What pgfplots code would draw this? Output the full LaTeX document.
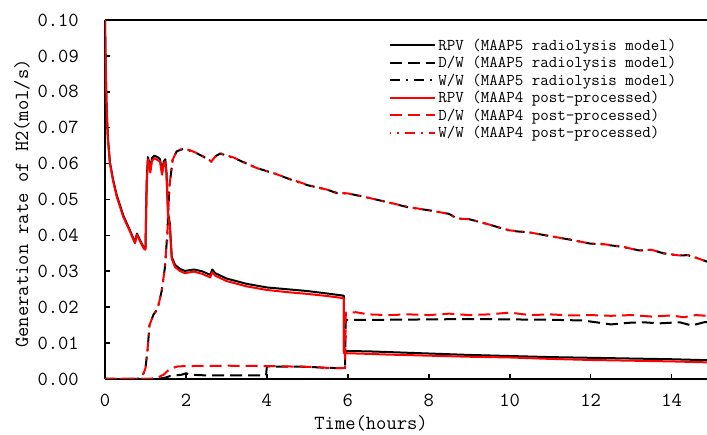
\documentclass[border=0pt]{standalone}
\usepackage{pgfplots}
\pgfplotsset{compat=1.18}
\definecolor{pred}{RGB}{255,0,0}
\begin{document}
\begin{tikzpicture}
\begin{axis}[
  scale only axis, width=602pt, height=359pt,
  xmin=0, xmax=14.875, ymin=0, ymax=0.1,
  axis y line*=left,
  axis line style={line width=1.6pt},
  xtick={0,2,...,14}, ytick={0,0.01,...,0.1},
  xtick pos=left, ytick pos=left, tick align=inside,
  major tick length=5pt, every tick/.style={line width=1.6pt, black},
  font=\ttfamily\fontsize{20}{20}\selectfont,
  /pgf/number format/.cd, fixed, fixed zerofill, precision=2, assume math mode=true,
  /pgfplots/.cd,
  xticklabel style={/pgf/number format/precision=0, anchor=center, yshift=-21pt},
  yticklabel style={anchor=east, inner sep=0pt, xshift=-26pt},
  xlabel={Time(hours)}, ylabel={Generation rate of H2(mol/s)},
  every axis x label/.style={at={(axis description cs:0.442,-0.125)}, anchor=center},
  every axis y label/.style={at={(axis description cs:-0.138,0.489)}, rotate=90, anchor=center},
  legend style={draw=none, fill=none, at={(0.472,0.955)}, anchor=north west,
    font=\ttfamily\fontsize{16.5}{17.7}\selectfont, inner sep=0pt, row sep=0pt,
    cells={anchor=west, text height=12pt, text depth=5.7pt, inner sep=0pt, inner xsep=2pt}},
  legend image code/.code={\draw[#1] (0pt,0pt) -- (45pt,0pt);},
  every axis plot/.append style={line width=2pt, line join=round},
]
% MAAP5 radiolysis model
\addplot[black] coordinates {
(0,0.100)(0.02,0.085)(0.04,0.0755)(0.07,0.0675)(0.12,0.0605)(0.2,0.0555)(0.29,0.0512)
(0.45,0.0456)(0.62,0.0413)(0.74,0.0381)(0.79,0.0405)(0.86,0.0388)(0.96,0.0366)(1.0,0.0363)
(1.03,0.055)(1.06,0.0618)(1.09,0.0605)(1.12,0.0582)(1.16,0.0615)(1.22,0.0622)(1.3,0.0618)
(1.36,0.0612)(1.41,0.0575)(1.45,0.0605)(1.49,0.0612)(1.52,0.0575)(1.56,0.046)(1.6,0.0435)
(1.65,0.034)(1.73,0.0318)(1.85,0.0307)(1.97,0.0301)(2.2,0.0305)(2.4,0.030)(2.6,0.029)
(2.65,0.0305)(2.72,0.0295)(3.0,0.028)(3.5,0.0265)(4.0,0.0255)(4.5,0.025)(5.0,0.0245)
(5.5,0.0238)(5.9,0.0232)(5.9,0.0078)(6.5,0.0077)(7,0.0075)(8,0.0071)(9,0.0067)(10,0.0064)
(11,0.0061)(12,0.0059)(13,0.0057)(14,0.0055)(15,0.0052)};
\addlegendentry{RPV (MAAP5 radiolysis model)}
\addplot[black, dash pattern=on 12pt off 6pt] coordinates {
(0,0)(1.3,0)(1.5,0.0004)(1.6,0.0008)(1.9,0.0012)(2.0,0.0016)(2.1,0.0012)(2.5,0.001)
(3.98,0.001)(4.0,0.0035)(5.0,0.0034)(5.5,0.0031)(5.93,0.003)(5.95,0.0165)(7,0.0165)
(8,0.0166)(9,0.0167)(10,0.0166)(11,0.0165)(11.8,0.0163)(12.2,0.0157)(12.5,0.0152)
(13,0.0157)(13.3,0.0158)(13.7,0.0155)(14.2,0.0158)(14.5,0.0149)(14.8,0.0158)(15,0.016)};
\addlegendentry{D/W (MAAP5 radiolysis model)}
\addplot[black, dash pattern=on 10pt off 6pt on 2pt off 6pt] coordinates {
(0,0)(0.8,0)(0.86,0.0005)(0.95,0.0015)(1.0,0.003)(1.05,0.008)(1.1,0.015)(1.2,0.018)
(1.3,0.0195)(1.4,0.0245)(1.48,0.031)(1.54,0.0405)(1.59,0.0535)(1.67,0.061)(1.77,0.0634)
(1.93,0.0641)(2.1,0.0636)(2.3,0.0627)(2.5,0.0615)(2.63,0.0605)(2.75,0.0622)(2.85,0.0628)
(3.2,0.0615)(3.74,0.0588)(4.2,0.0572)(4.6,0.0555)(5.0,0.054)(5.5,0.0527)(5.72,0.0518)
(6.0,0.0517)(6.5,0.0505)(7.0,0.0492)(7.5,0.0478)(8.0,0.047)(8.5,0.046)(8.7,0.0447)
(9.0,0.0445)(9.5,0.043)(10.0,0.0413)(10.5,0.0408)(11.0,0.0398)(11.5,0.0388)(12.0,0.0377)
(12.3,0.0375)(12.8,0.0368)(13.2,0.0358)(13.5,0.036)(13.8,0.035)(14.2,0.0344)(14.4,0.0345)
(14.6,0.0338)(15,0.0322)};
\addlegendentry{W/W (MAAP5 radiolysis model)}
% MAAP4 post-processed
\addplot[pred] coordinates {
(0,0.100)(0.02,0.085)(0.04,0.0752)(0.07,0.0672)(0.12,0.0602)(0.2,0.0552)(0.29,0.0508)
(0.45,0.0452)(0.62,0.041)(0.74,0.0378)(0.79,0.0402)(0.86,0.0385)(0.96,0.0363)(1.0,0.036)
(1.03,0.054)(1.06,0.0612)(1.09,0.0598)(1.12,0.0575)(1.16,0.0608)(1.22,0.0615)(1.3,0.061)
(1.36,0.0605)(1.41,0.0569)(1.45,0.060)(1.49,0.0605)(1.52,0.0568)(1.56,0.0452)(1.6,0.0428)
(1.65,0.0335)(1.73,0.0312)(1.85,0.0301)(1.97,0.0295)(2.2,0.0299)(2.4,0.0293)(2.6,0.0283)
(2.65,0.0298)(2.72,0.0288)(3.0,0.0273)(3.5,0.0258)(4.0,0.0248)(4.5,0.0242)(5.0,0.0237)
(5.5,0.0231)(5.9,0.0225)(5.9,0.0072)(6.5,0.0070)(7,0.0068)(8,0.0065)(9,0.0062)(10,0.006)
(11,0.0056)(12,0.0053)(13,0.0051)(14,0.0049)(15,0.0046)};
\addlegendentry{RPV (MAAP4 post-processed)}
\addplot[pred, dash pattern=on 12pt off 6pt] coordinates {
(0,0)(1.1,0)(1.3,0.0004)(1.45,0.0012)(1.6,0.0028)(1.8,0.0035)(2.0,0.0036)(3.0,0.0037)
(4.0,0.0036)(5.0,0.0034)(5.5,0.0031)(5.93,0.003)(5.95,0.0185)(6.2,0.0186)(6.5,0.018)
(7,0.0178)(7.5,0.018)(8,0.0178)(8.5,0.0182)(9,0.0178)(9.5,0.018)(10,0.0185)(10.5,0.0178)
(11,0.018)(11.5,0.0177)(12,0.0178)(12.5,0.0176)(13,0.0178)(13.5,0.0174)(14,0.0177)
(14.3,0.0172)(14.6,0.0178)(15,0.0175)};
\addlegendentry{D/W (MAAP4 post-processed)}
\addplot[pred, dash pattern=on 10pt off 6pt on 2pt off 6pt, dash phase=9pt] coordinates {
(0,0)(0.8,0)(0.86,0.0005)(0.95,0.0015)(1.0,0.003)(1.05,0.008)(1.1,0.015)(1.2,0.018)
(1.3,0.0195)(1.4,0.0245)(1.48,0.031)(1.54,0.0405)(1.59,0.0535)(1.67,0.061)(1.77,0.0635)
(1.93,0.0642)(2.1,0.0637)(2.3,0.0628)(2.5,0.0616)(2.63,0.0606)(2.75,0.0623)(2.85,0.0629)
(3.2,0.0616)(3.74,0.0588)(4.2,0.0572)(4.6,0.0556)(5.0,0.0541)(5.5,0.0527)(5.72,0.0519)
(6.0,0.0517)(6.5,0.0505)(7.0,0.0492)(7.5,0.0479)(8.0,0.047)(8.5,0.046)(8.7,0.0447)
(9.0,0.0445)(9.5,0.043)(10.0,0.0414)(10.5,0.0408)(11.0,0.0398)(11.5,0.0388)(12.0,0.0377)
(12.3,0.0376)(12.8,0.0368)(13.2,0.0358)(13.5,0.036)(13.8,0.035)(14.2,0.0344)(14.4,0.0345)
(14.6,0.0338)(15,0.0322)};
\addlegendentry{W/W (MAAP4 post-processed)}
\end{axis}
\pgfresetboundingbox
\useasboundingbox (-105pt,-56pt) rectangle (602pt,379pt);
\end{tikzpicture}
\end{document}
